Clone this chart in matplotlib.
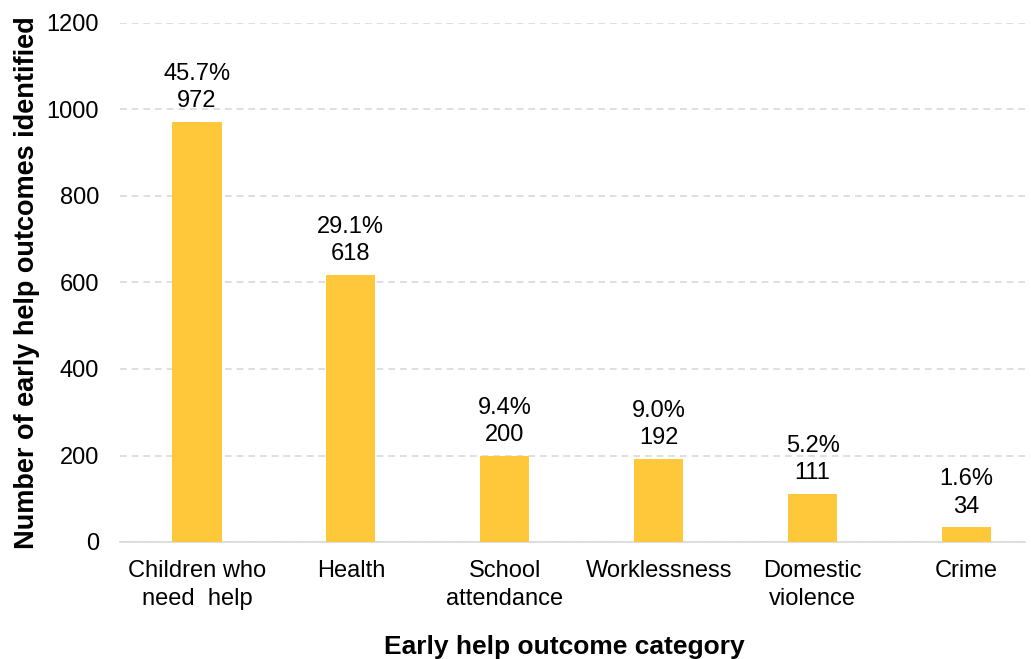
import matplotlib.pyplot as plt

plt.rcParams['font.family'] = ['Liberation Sans', 'DejaVu Sans']

categories = ["Children who\nneed  help", "Health", "School\nattendance",
              "Worklessness", "Domestic\nviolence", "Crime"]
counts = [972, 618, 200, 192, 111, 34]
shares = ["45.7%", "29.1%", "9.4%", "9.0%", "5.2%", "1.6%"]

fig = plt.figure(figsize=(10.31, 6.59), dpi=100)
ax = fig.add_axes([120 / 1031, 1 - 542 / 659, 905 / 1031, 519 / 659])

x = range(len(categories))
bars = ax.bar(x, counts, width=0.32, color='#FFC83A', zorder=3)

for xi, val, pct in zip(x, counts, shares):
    ax.annotate(f"{pct}\n{val}", (xi, val), xytext=(0, 7),
                textcoords='offset points', ha='center', va='bottom',
                fontsize=17, linespacing=1.3)

ax.set_ylim(0, 1200)
ax.set_yticks(range(0, 1201, 200))
ax.set_xlim(-0.5, 5.38)
ax.set_xticks(list(x))
ax.set_xticklabels(categories, fontsize=17, linespacing=1.35)
ax.tick_params(axis='y', labelsize=17, length=0, pad=15)
ax.tick_params(axis='x', length=0, pad=13)

ax.grid(axis='y', color='#d9d9d9', linestyle=(0, (4, 3)), linewidth=1.2, zorder=0)
for side in ['top', 'right', 'left']:
    ax.spines[side].set_visible(False)
ax.spines['bottom'].set_color('#d9d9d9')
ax.spines['bottom'].set_linewidth(1.2)

ax.set_ylabel("Number of early help outcomes identified", fontsize=19.5,
              fontweight='bold', labelpad=4.5)
ax.set_xlabel("Early help outcome category", fontsize=19, fontweight='bold')
# pin the x label near the bottom edge of the figure
ax.xaxis.set_label_coords(564 / 1031, 5 / 659, transform=fig.transFigure)
ax.xaxis.label.set_va('baseline')

fig.savefig('out.png', dpi=100)
